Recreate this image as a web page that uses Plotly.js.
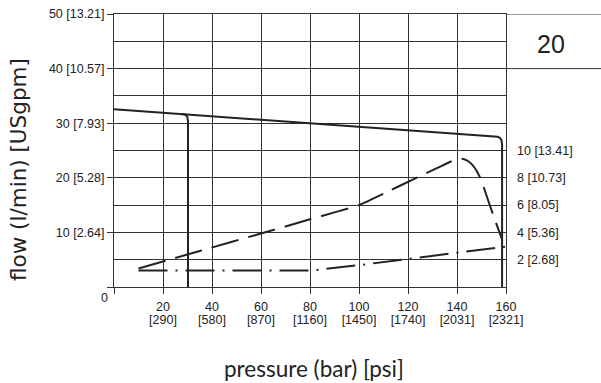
<!DOCTYPE html>
<html>
<head>
<meta charset="utf-8">
<script src="https://cdn.plot.ly/plotly-3.0.1.min.js"></script>
<style>html,body{margin:0;padding:0;background:#fff;}#chart{width:601px;height:383px;}</style>
</head>
<body>
<div id="chart"></div>
<script>
// Pressure tick values (bar) and their psi equivalents
const pressureTicks = [20, 40, 60, 80, 100, 120, 140, 160];
const barLabels = ['20', '40', '60', '80', '100', '120', '140', '160'];
const psiLabels = ['[290]', '[580]', '[870]', '[1160]', '[1450]', '[1740]', '[2031]', '[2321]'];

// Flow axis ticks (l/min) with USgpm
const flowTicks = [0, 10, 20, 30, 40, 50];
const flowLabels = ['', '10 [2.64]', '20 [5.28]', '30 [7.93]', '40 [10.57]', '50 [13.21]'];

// Power axis ticks (kW) with hp
const powerTicks = [2, 4, 6, 8, 10];
const powerLabels = ['2 [2.68]', '4 [5.36]', '6 [8.05]', '8 [10.73]', '10 [13.41]'];

// Solid flow curve (l/min) with drop at max pressure
const flowPressure = [0, 156.6, 157.6, 158.2, 158.4, 158.4];
const flowValues   = [32.55, 27.5, 27.3, 26.8, 26.0, 0];

// Solid vertical drop at low pressure
const dropPressure = [27.5, 29.0, 29.9, 30.2, 30.2];
const dropValues   = [31.7, 31.6, 31.2, 30.4, 0];

// Dashed power curve (kW)
const powerPressure = [10, 35, 60, 80, 100, 110, 123, 132, 137, 140, 142, 144, 146, 148, 150, 152, 155, 158.3];
const powerValues   = [1.36, 2.64, 3.92, 4.96, 6.0, 6.84, 7.96, 8.72, 9.16, 9.34, 9.4, 9.28, 9.0, 8.52, 7.8, 6.72, 5.16, 3.52];

// Dash-dot curve (l/min)
const ddPressure = [10, 80, 100, 123, 160];
const ddValues   = [3.0, 3.0, 4.0, 5.3, 7.4];

const ink = '#222';
const grid = '#333';
const tickFont = {family: 'Liberation Sans, Arial, sans-serif', size: 12.5, color: ink};

const traces = [
  {x: flowPressure, y: flowValues, xaxis: 'x', yaxis: 'y', mode: 'lines',
   line: {color: ink, width: 2}, hoverinfo: 'skip'},
  {x: dropPressure, y: dropValues, xaxis: 'x', yaxis: 'y', mode: 'lines',
   line: {color: ink, width: 2}, hoverinfo: 'skip'},
  {x: powerPressure, y: powerValues, xaxis: 'x', yaxis: 'y2', mode: 'lines',
   line: {color: ink, width: 2, dash: '28px,10px', shape: 'spline', smoothing: 0.4}, hoverinfo: 'skip'},
  {x: ddPressure, y: ddValues, xaxis: 'x2', yaxis: 'y', mode: 'lines',
   line: {color: ink, width: 2, dash: '29px,8px,2px,8px'}, hoverinfo: 'skip'}
];

const L = 114, R = 95, T = 14, B = 96;
const W = 601 - L - R, H = 383 - T - B;
const px = v => (v - L) / W;
const py = v => (383 - B - v) / H;

const layout = {
  width: 601, height: 383,
  margin: {l: L, r: R, t: T, b: B, pad: 0},
  paper_bgcolor: '#fff', plot_bgcolor: '#fff',
  showlegend: false,
  xaxis: {
    range: [0, 160], tickmode: 'array',
    tickvals: [0].concat(pressureTicks), ticktext: [''].concat(barLabels),
    showgrid: true, gridcolor: grid, gridwidth: 1, zeroline: false,
    showline: true, linecolor: grid, linewidth: 1, mirror: true,
    ticks: 'outside', ticklen: 6, tickcolor: grid, tickwidth: 1,
    tickfont: tickFont, ticklabelstandoff: 2, fixedrange: true
  },
  xaxis2: {
    range: [0, 160], overlaying: 'x', anchor: 'y', side: 'bottom',
    tickmode: 'array', tickvals: pressureTicks, ticktext: psiLabels,
    showgrid: false, zeroline: false, showline: false, ticks: '',
    tickfont: tickFont, ticklabelstandoff: 23, fixedrange: true
  },
  yaxis: {
    range: [0, 50], tickmode: 'array', tickvals: flowTicks, ticktext: flowLabels,
    showgrid: true, gridcolor: grid, gridwidth: 1, zeroline: false,
    showline: true, linecolor: grid, linewidth: 1, mirror: true,
    ticks: 'outside', ticklen: 6, tickcolor: grid, tickwidth: 1,
    minor: {dtick: 5, tick0: 0, showgrid: true, gridcolor: grid, gridwidth: 1, ticks: ''},
    tickfont: tickFont, fixedrange: true
  },
  yaxis2: {
    range: [0, 20], overlaying: 'y', side: 'right', anchor: 'x',
    tickmode: 'array', tickvals: powerTicks, ticktext: powerLabels,
    showgrid: false, zeroline: false, showline: false, ticks: '',
    tickfont: tickFont, ticklabelstandoff: 10, fixedrange: true
  },
  shapes: [
    {type: 'line', xref: 'paper', yref: 'y', x0: 1, x1: px(601), y0: 50, y1: 50,
     line: {color: grid, width: 1}},
    {type: 'line', xref: 'paper', yref: 'y', x0: 1, x1: px(601), y0: 40, y1: 40,
     line: {color: grid, width: 1}}
  ],
  annotations: [
    {text: 'flow (l/min) [USgpm]', xref: 'paper', yref: 'paper', x: px(18), y: py(170),
     xanchor: 'center', yanchor: 'middle', textangle: -90, showarrow: false,
     font: {family: 'DejaVu Sans, sans-serif', size: 21.5, color: ink}},
    {text: 'pressure (bar) [psi]', xref: 'paper', yref: 'paper', x: px(314), y: py(368),
     xanchor: 'center', yanchor: 'middle', showarrow: false,
     font: {family: 'Lato, sans-serif', size: 22.5, color: ink}},
    {text: '0', xref: 'paper', yref: 'paper', x: px(104.5), y: py(298),
     xanchor: 'center', yanchor: 'middle', showarrow: false, font: tickFont},
    {text: '20', xref: 'paper', yref: 'paper', x: px(551), y: py(44),
     xanchor: 'center', yanchor: 'middle', showarrow: false,
     font: {family: 'Liberation Sans, Arial, sans-serif', size: 25, color: ink}}
  ]
};

Plotly.newPlot('chart', traces, layout, {displayModeBar: false, staticPlot: true});
</script>
</body>
</html>
